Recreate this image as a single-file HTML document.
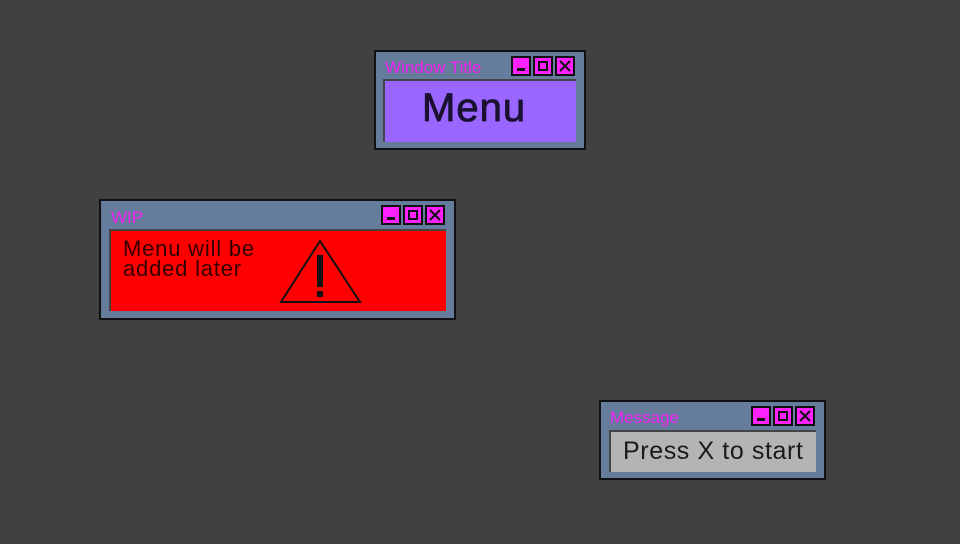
<!DOCTYPE html>
<html><head><style>
body{margin:0;width:960px;height:544px;background:#414141;position:relative;overflow:hidden;font-family:"Liberation Sans",sans-serif}
.w{position:absolute;background:#657c9c;border:2px solid #111;box-sizing:border-box}
.t{position:absolute;color:#f01ff0;font-size:17px;letter-spacing:0px}
.b{position:absolute;width:20px;height:20px;background:#ff22ff;border:2px solid #111;box-sizing:border-box}
.b svg{position:absolute;left:0;top:0}
.c{position:absolute;box-sizing:border-box;border-top:2px solid #444;border-left:2px solid #444}
</style></head><body>

<div class="w" style="left:374px;top:50px;width:212px;height:100px">
 <div class="t" style="left:9px;top:6px">Window Title</div>
 <div class="b" style="left:135px;top:4px"><svg width="16" height="16"><rect x="4" y="10" width="8" height="3" fill="#111"/></svg></div>
 <div class="b" style="left:157px;top:4px"><svg width="16" height="16"><rect x="4" y="4" width="8" height="8" fill="none" stroke="#111" stroke-width="2"/></svg></div>
 <div class="b" style="left:179px;top:4px"><svg width="16" height="16"><path d="M3 3L13 13M13 3L3 13" stroke="#111" stroke-width="2"/></svg></div>
 <div class="c" style="left:7px;top:27px;width:193px;height:63px;background:#9966ff">
  <div style="position:absolute;left:37px;top:5px;font-size:40px;letter-spacing:1px;color:#1a1030;-webkit-text-stroke:0.8px #1a1030">Menu</div>
 </div>
</div>

<div class="w" style="left:99px;top:199px;width:357px;height:121px">
 <div class="t" style="left:10px;top:7px">WIP</div>
 <div class="b" style="left:280px;top:4px"><svg width="16" height="16"><rect x="4" y="10" width="8" height="3" fill="#111"/></svg></div>
 <div class="b" style="left:302px;top:4px"><svg width="16" height="16"><rect x="4" y="4" width="8" height="8" fill="none" stroke="#111" stroke-width="2"/></svg></div>
 <div class="b" style="left:324px;top:4px"><svg width="16" height="16"><path d="M3 3L13 13M13 3L3 13" stroke="#111" stroke-width="2"/></svg></div>
 <div class="c" style="left:8px;top:28px;width:337px;height:82px;background:#ff0000">
  <div style="position:absolute;left:12px;top:8px;font-size:22px;line-height:20px;letter-spacing:0.8px;color:#300">Menu will be<br>added later</div>
  <svg style="position:absolute;left:168px;top:8px" width="84" height="66"><path d="M41 2L2 63H81Z" fill="none" stroke="#111" stroke-width="2"/><rect x="38" y="16" width="6" height="32" fill="#111"/><rect x="38" y="52" width="6" height="6" fill="#111"/></svg>
 </div>
</div>

<div class="w" style="left:599px;top:400px;width:227px;height:80px">
 <div class="t" style="left:9px;top:6px">Message</div>
 <div class="b" style="left:150px;top:4px"><svg width="16" height="16"><rect x="4" y="10" width="8" height="3" fill="#111"/></svg></div>
 <div class="b" style="left:172px;top:4px"><svg width="16" height="16"><rect x="4" y="4" width="8" height="8" fill="none" stroke="#111" stroke-width="2"/></svg></div>
 <div class="b" style="left:194px;top:4px"><svg width="16" height="16"><path d="M3 3L13 13M13 3L3 13" stroke="#111" stroke-width="2"/></svg></div>
 <div class="c" style="left:8px;top:28px;width:207px;height:42px;background:#b4b4b4">
  <div style="position:absolute;left:12px;top:5px;font-size:25px;letter-spacing:0.6px;color:#1a1a1a">Press X to start</div>
 </div>
</div>
</body></html>
